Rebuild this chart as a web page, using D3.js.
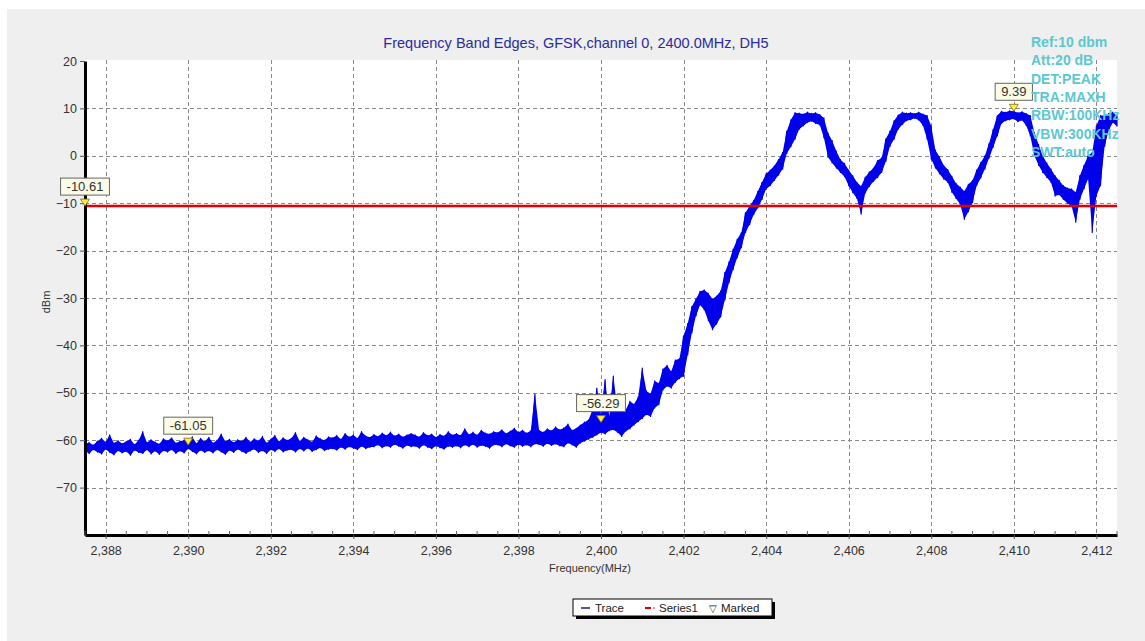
<!DOCTYPE html>
<html>
<head>
<meta charset="utf-8">
<script src="https://cdn.jsdelivr.net/npm/d3@7"></script>
<style>
  body { margin: 0; background: #fff; }
  svg { display: block; font-family: Arial, "Liberation Sans", sans-serif; }
</style>
</head>
<body>
<svg id="chart" width="1145" height="641"></svg>
<script>
// chart values
var titleText = "Frequency Band Edges, GFSK,channel 0, 2400.0MHz, DH5";
var infoLines = ["Ref:10 dbm", "Att:20 dB", "DET:PEAK", "TRA:MAXH", "RBW:100KHz", "VBW:300KHz", "SWT:auto"];
var xTickValues = [2388, 2390, 2392, 2394, 2396, 2398, 2400, 2402, 2404, 2406, 2408, 2410, 2412];
var yTickValues = [-70, -60, -50, -40, -30, -20, -10, 0, 10, 20];
var limitDbm = -10.61;
var markerFreq = [2387.5, 2390, 2400, 2410];
var markerDbm = [-10.61, -61.05, -56.29, 9.39];

// sweep points (MHz) with max/min of the trace around each point (dBm)
var traceFreq = [
  2387.5,2387.6,2387.7,2387.8,2387.9,2388.0,2388.1,2388.2,2388.3,2388.4,
  2388.5,2388.6,2388.7,2388.8,2388.9,2389.0,2389.1,2389.2,2389.3,2389.4,
  2389.5,2389.6,2389.7,2389.8,2389.9,2390.0,2390.1,2390.2,2390.3,2390.4,
  2390.5,2390.6,2390.7,2390.8,2390.9,2391.0,2391.1,2391.2,2391.3,2391.4,
  2391.5,2391.6,2391.7,2391.8,2391.9,2392.0,2392.1,2392.2,2392.3,2392.4,
  2392.5,2392.6,2392.7,2392.8,2392.9,2393.0,2393.1,2393.2,2393.3,2393.4,
  2393.5,2393.6,2393.7,2393.8,2393.9,2394.0,2394.1,2394.2,2394.3,2394.4,
  2394.5,2394.6,2394.7,2394.8,2394.9,2395.0,2395.1,2395.2,2395.3,2395.4,
  2395.5,2395.6,2395.7,2395.8,2395.9,2396.0,2396.1,2396.2,2396.3,2396.4,
  2396.5,2396.6,2396.7,2396.8,2396.9,2397.0,2397.1,2397.2,2397.3,2397.4,
  2397.5,2397.6,2397.7,2397.8,2397.9,2398.0,2398.1,2398.2,2398.3,2398.4,
  2398.5,2398.6,2398.7,2398.8,2398.9,2399.0,2399.1,2399.2,2399.3,2399.4,
  2399.5,2399.6,2399.7,2399.8,2399.9,2400.0,2400.1,2400.2,2400.3,2400.4,
  2400.5,2400.6,2400.7,2400.8,2400.9,2401.0,2401.1,2401.2,2401.3,2401.4,
  2401.5,2401.6,2401.7,2401.8,2401.9,2402.0,2402.1,2402.2,2402.3,2402.4,
  2402.5,2402.6,2402.7,2402.8,2402.9,2403.0,2403.1,2403.2,2403.3,2403.4,
  2403.5,2403.6,2403.7,2403.8,2403.9,2404.0,2404.1,2404.2,2404.3,2404.4,
  2404.5,2404.6,2404.7,2404.8,2404.9,2405.0,2405.1,2405.2,2405.3,2405.4,
  2405.5,2405.6,2405.7,2405.8,2405.9,2406.0,2406.1,2406.2,2406.3,2406.4,
  2406.5,2406.6,2406.7,2406.8,2406.9,2407.0,2407.1,2407.2,2407.3,2407.4,
  2407.5,2407.6,2407.7,2407.8,2407.9,2408.0,2408.1,2408.2,2408.3,2408.4,
  2408.5,2408.6,2408.7,2408.8,2408.9,2409.0,2409.1,2409.2,2409.3,2409.4,
  2409.5,2409.6,2409.7,2409.8,2409.9,2410.0,2410.1,2410.2,2410.3,2410.4,
  2410.5,2410.6,2410.7,2410.8,2410.9,2411.0,2411.1,2411.2,2411.3,2411.4,
  2411.5,2411.6,2411.7,2411.8,2411.9,2412.0,2412.1,2412.2,2412.3,2412.4,
  2412.5
];
var traceHigh = [
  -60.8,-60.5,-61.0,-60.2,-59.6,-60.4,-58.9,-60.6,-60.1,-60.7,
  -60.3,-59.8,-60.9,-60.0,-58.2,-60.5,-59.9,-60.4,-60.8,-59.7,
  -60.1,-59.5,-60.6,-60.2,-60.0,-60.4,-59.3,-60.7,-59.6,-60.3,
  -59.4,-60.6,-60.0,-58.7,-60.3,-59.8,-60.5,-59.9,-60.2,-59.4,
  -60.4,-59.7,-60.1,-59.2,-60.6,-59.8,-59.0,-60.3,-59.5,-60.0,
  -59.6,-58.4,-60.2,-59.4,-59.9,-60.4,-59.1,-59.7,-60.0,-59.3,
  -59.5,-59.0,-59.8,-58.6,-59.3,-58.9,-59.6,-58.2,-59.1,-59.4,
  -58.8,-59.2,-58.5,-59.0,-58.3,-59.1,-58.7,-59.3,-58.9,-58.6,
  -58.9,-59.3,-58.4,-59.0,-58.7,-59.4,-58.8,-59.1,-58.2,-58.9,
  -58.6,-59.0,-57.6,-58.8,-58.3,-58.9,-57.9,-58.5,-58.7,-58.2,
  -58.4,-57.8,-58.6,-58.1,-57.5,-58.3,-57.9,-58.5,-58.0,-50.3,
  -57.9,-58.3,-57.6,-58.0,-57.2,-57.8,-57.4,-56.6,-57.9,-57.5,
  -56.8,-56.2,-55.7,-53.5,-49.0,-54.5,-47.2,-55.0,-46.5,-53.8,
  -52.9,-53.6,-51.8,-52.4,-50.9,-44.8,-49.6,-50.2,-47.5,-48.0,
  -45.0,-44.2,-45.5,-43.1,-42.8,-38.0,-35.4,-31.8,-30.2,-28.6,
  -28.3,-29.0,-30.2,-29.6,-28.5,-24.6,-22.4,-19.7,-17.6,-16.2,
  -12.0,-10.6,-9.4,-7.5,-5.6,-3.8,-3.0,-2.1,-0.8,0.7,
  5.2,7.6,9.1,9.0,8.8,9.2,8.9,9.1,8.7,8.0,
  4.8,3.2,1.0,-0.8,-1.6,-3.0,-4.2,-5.6,-6.4,-4.5,
  -3.4,-2.6,-1.0,-0.4,3.6,5.2,7.4,8.6,9.2,9.0,
  9.1,8.9,9.2,8.8,8.5,6.3,1.2,-0.2,-2.0,-2.9,
  -4.3,-5.8,-6.6,-7.5,-6.0,-5.2,-3.0,-1.4,0.0,2.6,
  5.6,8.5,9.4,9.2,9.5,9.4,9.1,9.3,8.9,8.5,
  4.9,2.4,0.0,-1.5,-2.8,-4.2,-5.2,-6.3,-6.8,-7.0,
  -7.7,-4.2,-2.0,0.0,0.7,6.3,8.5,8.5,8.9,9.2,
  8.4
];
var traceLow = [
  -62.3,-62.8,-62.0,-62.5,-62.9,-61.9,-62.6,-63.1,-62.2,-62.7,
  -62.4,-63.2,-62.1,-62.6,-62.8,-62.0,-62.9,-62.3,-63.0,-62.2,
  -62.5,-62.0,-62.8,-62.3,-62.7,-61.8,-62.4,-62.9,-62.1,-62.6,
  -62.2,-62.7,-62.0,-62.5,-63.0,-62.1,-62.6,-61.9,-62.4,-62.8,
  -62.3,-61.9,-62.6,-62.2,-62.8,-62.0,-62.4,-61.8,-62.5,-62.1,
  -62.0,-62.5,-61.8,-62.3,-61.7,-62.4,-62.0,-61.6,-62.2,-61.9,
  -61.8,-62.1,-61.5,-61.9,-61.4,-61.7,-62.0,-61.3,-61.8,-61.5,
  -61.4,-61.0,-61.6,-61.2,-61.5,-60.9,-61.3,-61.7,-61.1,-61.4,
  -61.3,-61.7,-61.0,-61.5,-61.8,-61.2,-61.6,-61.9,-61.3,-61.5,
  -61.2,-61.6,-61.0,-61.4,-60.9,-61.5,-61.1,-61.3,-61.7,-61.0,
  -61.0,-61.4,-60.8,-61.2,-61.5,-60.9,-61.3,-61.0,-61.4,-60.8,
  -60.9,-61.3,-60.7,-61.1,-60.8,-61.2,-61.4,-60.6,-61.0,-61.5,
  -60.6,-60.2,-59.8,-59.4,-58.9,-58.4,-58.7,-58.0,-57.8,-58.3,
  -59.2,-58.1,-57.6,-56.8,-56.1,-55.4,-54.6,-55.0,-53.2,-52.5,
  -49.4,-48.6,-49.0,-47.8,-47.0,-46.5,-42.0,-37.4,-33.8,-31.5,
  -32.5,-34.8,-36.7,-35.5,-34.0,-30.4,-26.8,-24.0,-21.5,-19.4,
  -16.2,-14.5,-12.4,-11.0,-9.2,-7.0,-6.3,-5.2,-4.1,-2.8,
  0.5,1.9,3.5,5.6,6.3,7.0,7.3,6.8,6.5,3.8,
  -0.3,-1.5,-2.6,-3.5,-4.4,-6.3,-7.8,-9.0,-12.3,-7.9,
  -6.5,-5.4,-4.6,-3.5,-1.2,2.0,3.5,5.6,6.6,7.4,
  7.6,7.9,7.5,6.4,3.5,-0.7,-2.6,-3.8,-4.9,-5.6,
  -7.7,-9.0,-10.2,-13.4,-11.8,-9.9,-6.3,-4.7,-2.8,-0.5,
  1.8,4.2,6.8,7.4,7.6,7.8,7.2,7.5,6.4,4.2,
  0.0,-2.0,-3.5,-4.6,-5.6,-8.5,-8.2,-9.2,-10.0,-10.6,
  -14.0,-9.2,-7.0,-4.9,-16.2,-8.5,-6.3,2.0,5.4,7.0,
  6.2
];

var svg = d3.select("#chart");
var W = +svg.attr("width"), H = +svg.attr("height");
var margin = {top: 61, right: 28, bottom: 106, left: 85};

// grey panel behind everything
svg.append("rect").attr("x", 7).attr("y", 9).attr("width", W - 7).attr("height", H - 9).attr("fill", "#efefef");

var x = d3.scaleLinear().domain([2387.5, 2412.5]).range([margin.left, W - margin.right]);
var y = d3.scaleLinear().domain([-80, 20]).range([H - margin.bottom, margin.top]);

// white plot area
svg.append("rect")
  .attr("x", x.range()[0]).attr("y", y.range()[1] - 1)
  .attr("width", x.range()[1] - x.range()[0])
  .attr("height", y.range()[0] - y.range()[1] + 1)
  .attr("fill", "#fff");

// dashed grid
var grid = svg.append("g").attr("stroke", "#8a8a8a").attr("stroke-dasharray", "4,3").attr("stroke-width", 1);
grid.selectAll(".vx").data(xTickValues).enter().append("line")
  .attr("x1", function(d) { return Math.round(x(d)) + 0.5; })
  .attr("x2", function(d) { return Math.round(x(d)) + 0.5; })
  .attr("y1", y.range()[1] - 1).attr("y2", y.range()[0]);
grid.selectAll(".hy").data(yTickValues.filter(function(d) { return d < 20; })).enter().append("line")
  .attr("y1", function(d) { return Math.round(y(d)) + 0.5; })
  .attr("y2", function(d) { return Math.round(y(d)) + 0.5; })
  .attr("x1", x.range()[0]).attr("x2", x.range()[1]);

// trace: band between min and max, then the max/min zigzag on top
var area = d3.area()
  .x(function(d, i) { return x(traceFreq[i]); })
  .y0(function(d, i) { return y(traceLow[i]); })
  .y1(function(d, i) { return y(traceHigh[i]); });
svg.append("path").datum(traceFreq)
  .attr("d", area)
  .attr("fill", "#0000f0");

var pts = [];
traceFreq.forEach(function(f, i) {
  pts.push([f, traceHigh[i]]);
  pts.push([f, traceLow[i]]);
});
var line = d3.line().x(function(d) { return x(d[0]); }).y(function(d) { return y(d[1]); });
svg.append("path").datum(pts)
  .attr("d", line)
  .attr("fill", "none")
  .attr("stroke", "#0000e8")
  .attr("stroke-width", 1.2)
  .attr("stroke-linejoin", "round");

// limit line
svg.append("line")
  .attr("x1", x.range()[0]).attr("x2", x.range()[1])
  .attr("y1", y(limitDbm)).attr("y2", y(limitDbm))
  .attr("stroke", "#e00000").attr("stroke-width", 2.5);

// axes
var xAxis = svg.append("g")
  .attr("transform", "translate(0," + y.range()[0] + ")")
  .call(d3.axisBottom(x).tickValues(xTickValues).tickFormat(d3.format(",")).tickSize(4).tickSizeOuter(0).tickPadding(7));
var yAxis = svg.append("g")
  .attr("transform", "translate(" + x.range()[0] + ",0)")
  .call(d3.axisLeft(y).tickValues(yTickValues).tickSize(5).tickSizeOuter(0).tickPadding(3));
[xAxis, yAxis].forEach(function(a) {
  a.select(".domain").attr("stroke", "#000").attr("stroke-width", 3);
  a.selectAll(".tick line").attr("stroke", "#555");
  a.selectAll(".tick text").attr("fill", "#333").style("font-size", "12.5px").style("font-family", "Arial, 'Liberation Sans', sans-serif");
});

// minor ticks on x axis, every 0.5 MHz
var minorX = x.ticks(50).filter(function(d) { return xTickValues.indexOf(d) < 0; });
svg.append("g").selectAll("line").data(minorX).enter().append("line")
  .attr("x1", function(d) { return x(d); }).attr("x2", function(d) { return x(d); })
  .attr("y1", y.range()[0] - 4).attr("y2", y.range()[0])
  .attr("stroke", "#666");

// titles
svg.append("text").attr("x", 576).attr("y", 48).attr("text-anchor", "middle")
  .attr("fill", "#2b2b9e").style("font-size", "14.5px").text(titleText);
svg.append("text").attr("x", 590).attr("y", 572).attr("text-anchor", "middle")
  .attr("fill", "#333").style("font-size", "11px").text("Frequency(MHz)");
svg.append("text").attr("transform", "translate(50,302) rotate(-90)").attr("text-anchor", "middle")
  .attr("fill", "#333").style("font-size", "11px").text("dBm");

// markers with value boxes
var mk = svg.append("g").selectAll("g").data(markerFreq).enter().append("g")
  .attr("transform", function(d, i) { return "translate(" + x(d) + "," + y(markerDbm[i]) + ")"; });
mk.append("path").attr("d", "M-4.5,-7L4.5,-7L0,0Z")
  .attr("fill", "#ffef3a").attr("stroke", "#7a6a20").attr("stroke-width", 0.8);
mk.each(function(d, i) {
  var g = d3.select(this);
  var t = g.append("text").attr("x", 0).attr("y", -15).attr("text-anchor", "middle")
    .attr("fill", "#333").style("font-size", "13px").text(markerDbm[i].toFixed(2));
  var w = t.node().getComputedTextLength() + 12;
  g.insert("rect", "text").attr("x", -w / 2).attr("y", -28).attr("width", w).attr("height", 17)
    .attr("fill", "#fbfbe6").attr("stroke", "#666").attr("stroke-width", 1);
});

// analyzer settings, top right
svg.append("g").selectAll("text").data(infoLines).enter().append("text")
  .attr("x", 1031).attr("y", function(d, i) { return 47 + i * 18.3; })
  .attr("fill", "#5cc8d0").style("font-size", "14px").style("font-weight", "bold")
  .text(function(d) { return d; });

// legend
var lg = svg.append("g").attr("transform", "translate(573,599)");
lg.append("rect").attr("x", 3).attr("y", 3).attr("width", 199).attr("height", 17).attr("fill", "#000");
lg.append("rect").attr("x", 0).attr("y", 0).attr("width", 199).attr("height", 17).attr("fill", "#fff").attr("stroke", "#000");
lg.append("line").attr("x1", 8).attr("x2", 17).attr("y1", 9).attr("y2", 9).attr("stroke", "#1a1a80").attr("stroke-width", 1.5);
lg.append("text").attr("x", 22).attr("y", 13).attr("fill", "#222").style("font-size", "11.5px").text("Trace");
lg.append("line").attr("x1", 72).attr("x2", 78).attr("y1", 9).attr("y2", 9).attr("stroke", "#e00000").attr("stroke-width", 2);
lg.append("circle").attr("cx", 81).attr("cy", 9).attr("r", 0.8).attr("fill", "#e00000");
lg.append("text").attr("x", 86).attr("y", 13).attr("fill", "#222").style("font-size", "11.5px").text("Series1");
lg.append("text").attr("x", 136).attr("y", 13).attr("fill", "#222").style("font-size", "10px").text("\u25BD");
lg.append("text").attr("x", 148).attr("y", 13).attr("fill", "#222").style("font-size", "11.5px").text("Marked");
</script>
</body>
</html>
